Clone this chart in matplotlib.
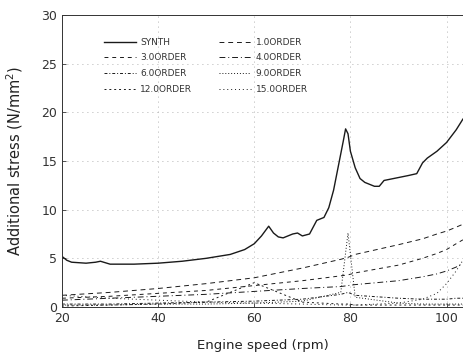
import numpy as np
import matplotlib.pyplot as plt

# SYNTH curve
synth_x = [20, 21, 22, 25, 27, 28, 30, 35, 40, 45, 50, 55, 58, 60, 61.5, 63, 64, 65, 66, 68,
           69, 70, 71.5, 73, 74.5, 75.5, 76.5, 77.5, 78.5, 79, 79.5, 80, 81, 82, 83, 85, 86, 87,
           89, 92, 93.8, 95, 96, 98, 100, 102, 103.4]
synth_y = [5.2, 4.8, 4.6, 4.5, 4.6, 4.7, 4.4, 4.4, 4.5, 4.7, 5.0, 5.4, 5.9, 6.5, 7.3, 8.3, 7.6, 7.2, 7.1, 7.5,
           7.6, 7.3, 7.5, 8.9, 9.2, 10.2, 12.0, 14.5, 17.0, 18.3, 17.8, 16.0, 14.3, 13.2, 12.8, 12.4, 12.4, 13.0,
           13.2, 13.5, 13.7, 14.8, 15.3, 16.0, 16.9, 18.2, 19.3]

# order curves on a common speed grid
speed = [20, 30, 40, 50, 60, 70, 78, 79.5, 81, 90, 95, 98, 100, 102, 103.4]
order_1 = [1.2, 1.5, 1.9, 2.4, 3.0, 4.0, 4.9, 5.1, 5.4, 6.4, 7.0, 7.5, 7.8, 8.2, 8.5]
order_3 = [0.9, 1.1, 1.4, 1.7, 2.2, 2.7, 3.2, 3.3, 3.5, 4.3, 5.0, 5.5, 5.9, 6.5, 6.9]
order_4 = [0.7, 0.9, 1.1, 1.3, 1.6, 1.9, 2.1, 2.2, 2.3, 2.7, 3.1, 3.4, 3.7, 4.1, 4.5]
order_6 = [0.3, 0.3, 0.4, 0.5, 0.6, 0.8, 1.3, 1.5, 1.2, 0.9, 0.8, 0.8, 0.8, 0.9, 0.9]
order_9 = [0.2, 0.2, 0.3, 0.3, 0.4, 0.6, 1.5, 7.6, 1.0, 0.4, 0.3, 0.3, 0.3, 0.3, 0.3]
order_12 = [0.1, 0.2, 0.3, 0.5, 2.5, 0.5, 0.3, 0.3, 0.2, 0.2, 0.2, 0.2, 0.2, 0.2, 0.2]
order_15 = [1.2, 0.9, 0.7, 0.5, 0.4, 0.3, 0.2, 0.2, 0.2, 0.4, 0.8, 1.4, 2.4, 3.7, 4.8]

fig = plt.figure(figsize=(4.64, 3.58), dpi=100)
ax = fig.add_axes([0.1336, 0.1425, 0.864, 0.8156])

c = '#1a1a1a'
h_synth, = ax.plot(synth_x, synth_y, color=c, lw=1.0, label='SYNTH')
h1, = ax.plot(speed, order_1, color=c, lw=0.7, ls=(0, (5, 4)), label='1.0ORDER')
h3, = ax.plot(speed, order_3, color=c, lw=0.7, ls=(0, (4, 4)), label='3.0ORDER')
h4, = ax.plot(speed, order_4, color=c, lw=0.7, ls=(0, (6, 3, 1, 3)), label='4.0ORDER')
h6, = ax.plot(speed, order_6, color=c, lw=0.7, ls=(0, (3, 2, 1, 2)), label='6.0ORDER')
h9, = ax.plot(speed, order_9, color=c, lw=0.7, ls=(0, (1, 2)), label='9.0ORDER')
h12, = ax.plot(speed, order_12, color=c, lw=0.7, ls=(0, (2, 3)), label='12.0ORDER')
h15, = ax.plot(speed, order_15, color=c, lw=0.7, ls=(0, (1, 3)), label='15.0ORDER')

ax.set_xlim(20, 103.4)
ax.set_ylim(0, 30)
ax.set_xticks([20, 40, 60, 80, 100])
ax.set_yticks([0, 5, 10, 15, 20, 25, 30])
ax.tick_params(direction='in', length=3, labelsize=9, colors='#333333', width=0.6)
ax.grid(True, ls=(0, (1, 5)), lw=0.6, color='#999999')
for s in ax.spines.values():
    s.set_linewidth(0.7)
    s.set_color('#333333')

ax.set_xlabel('Engine speed (rpm)', fontsize=9.5, color='#222222', labelpad=10)
ax.set_ylabel('Additional stress (N/mm$^2$)', fontsize=10.5, color='#222222', labelpad=12)

handles = [h_synth, h3, h6, h12, h1, h4, h9, h15]
ax.legend(handles=handles, labels=[h.get_label() for h in handles], ncol=2,
          loc='upper left', bbox_to_anchor=(0.085, 0.95), frameon=False, fontsize=6.5,
          handlelength=3.5, columnspacing=3.0, labelspacing=0.75, handletextpad=0.5,
          labelcolor='#333333')

plt.savefig('out.png', dpi=100)
